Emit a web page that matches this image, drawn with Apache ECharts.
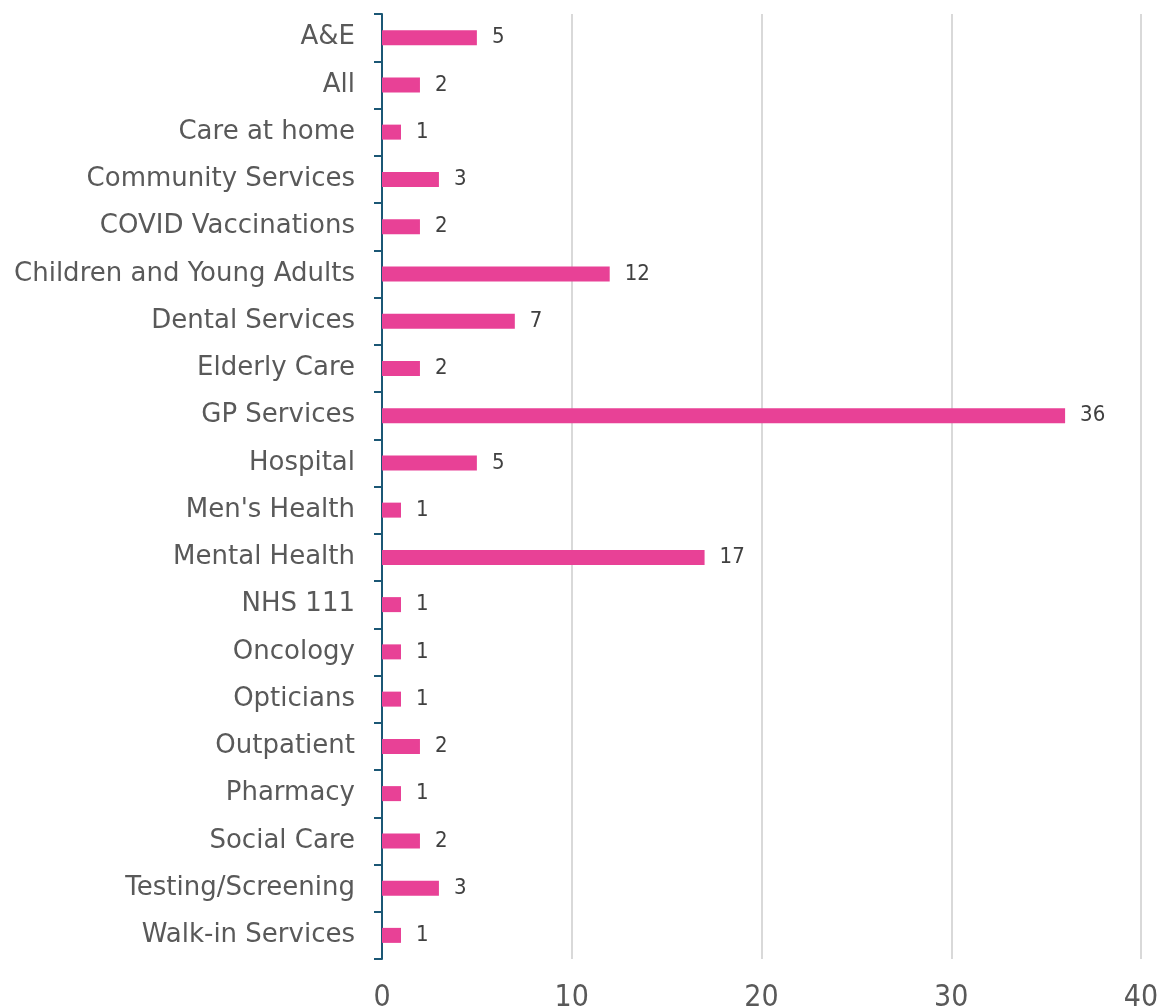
<!DOCTYPE html>
<html>
<head>
<meta charset="utf-8">
<script src="https://cdn.jsdelivr.net/npm/echarts@6/dist/echarts.min.js"></script>
<style>
  html, body { margin: 0; padding: 0; background: #fff; }
  #chart { width: 1162px; height: 1007px; }
</style>
</head>
<body>
<div id="chart"></div>
<script>
// categories, top to bottom as in the picture
const categories = [
  'A&E', 'All', 'Care at home', 'Community Services', 'COVID Vaccinations',
  'Children and Young Adults', 'Dental Services', 'Elderly Care', 'GP Services',
  'Hospital', "Men's Health", 'Mental Health', 'NHS 111', 'Oncology', 'Opticians',
  'Outpatient', 'Pharmacy', 'Social Care', 'Testing/Screening', 'Walk-in Services'
];
const counts = [5, 2, 1, 3, 2, 12, 7, 2, 36, 5, 1, 17, 1, 1, 1, 2, 1, 2, 3, 1];
const xTicks = [0, 10, 20, 30, 40];

const myChart = echarts.init(document.getElementById('chart'));

const option = {
  animation: false,
  textStyle: { fontFamily: 'DejaVu Sans' },
  grid: {
    left: 382,
    right: 21,
    top: 14,
    bottom: 48,
    containLabel: false,
    outerBoundsMode: 'none'
  },
  xAxis: {
    type: 'value',
    min: xTicks[0],
    max: xTicks[xTicks.length - 1],
    interval: 10,
    axisLine: { show: false },
    axisTick: { show: false },
    splitLine: { show: true, lineStyle: { color: '#D9D9D9', width: 2 } },
    axisLabel: { color: '#595959', fontSize: 30, margin: 24, fontFamily: 'DejaVu Sans Condensed' }
  },
  yAxis: {
    type: 'category',
    inverse: true,
    data: categories,
    axisLine: { show: true, lineStyle: { color: '#1B5775', width: 2 } },
    axisTick: { show: true, length: 8, lineStyle: { color: '#1B5775', width: 2 } },
    axisLabel: { color: '#595959', fontSize: 26, margin: 27, padding: [3, 0, 0, 0] }
  },
  series: [{
    type: 'bar',
    data: counts,
    barWidth: 15,
    itemStyle: { color: '#E84196' },
    label: {
      show: true,
      position: 'right',
      distance: 15,
      color: '#404040',
      fontSize: 22,
      fontFamily: 'DejaVu Sans Condensed'
    }
  }]
};

myChart.setOption(option);
</script>
</body>
</html>
